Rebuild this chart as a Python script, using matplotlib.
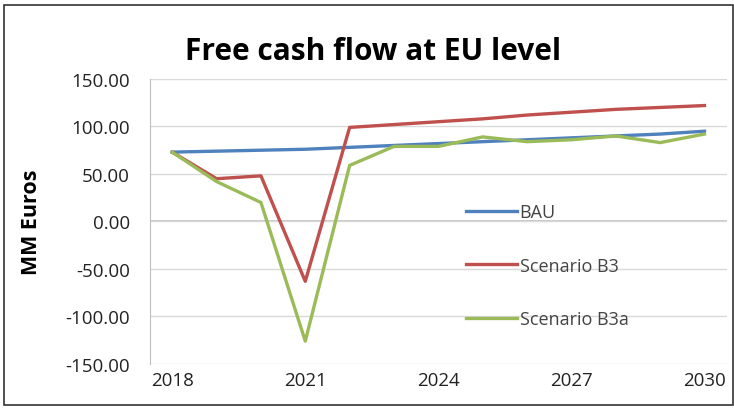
import matplotlib.pyplot as plt
import matplotlib.patches as mpatches

# Yearly free cash flow, MM Euros
years = list(range(2018, 2031))
bau = [73, 74, 75, 76, 78, 80, 82, 84, 86, 88, 90, 92, 95]
scenario_b3 = [73, 45, 48, -63, 99, 102, 105, 108, 112, 115, 118, 120, 122]
scenario_b3a = [73, 42, 20, -126, 59, 79, 79, 89, 84, 86, 90, 83, 92]
tick_years = [2018, 2021, 2024, 2027, 2030]

plt.rcParams['font.family'] = ['Open Sans', 'DejaVu Sans']

fig = plt.figure(figsize=(7.34, 4.10), dpi=100)
ax = fig.add_axes([0.2044, 0.1098, 0.7856, 0.6952])

ax.plot(years, bau, color='#4F81BD', lw=2.4, label='BAU')
ax.plot(years, scenario_b3, color='#C0504D', lw=2.4, label='Scenario B3')
ax.plot(years, scenario_b3a, color='#9BBB59', lw=2.4, label='Scenario B3a')

ax.set_xlim(2017.5, 2030.5)
ax.set_ylim(-150, 150)
ax.set_yticks(range(-150, 151, 50))
ax.set_yticklabels([f'{v:.2f}' for v in range(-150, 151, 50)])
ax.set_xticks(tick_years)
ax.tick_params(axis='both', length=0, labelsize=13.5, colors='#222222')
ax.tick_params(axis='y', pad=14.5)
ax.tick_params(axis='x', pad=5)

ax.grid(axis='y', color='#D9D9D9', lw=1)
ax.axhline(0, color='#BFBFBF', lw=1.2, zorder=1)
for side in ['top', 'right', 'bottom']:
    ax.spines[side].set_visible(False)
ax.spines['left'].set_color('#BFBFBF')

ax.set_ylabel('MM Euros', fontsize=15.5, fontweight='bold')
ax.yaxis.set_label_coords(-0.187, 0.5)
fig.text(0.508, 0.873, 'Free cash flow at EU level', ha='center', va='center',
         fontsize=21.5, fontweight='bold')

ax.legend(loc='upper left', bbox_to_anchor=(0.533, 0.595), frameon=False, borderpad=0,
          fontsize=13, labelspacing=1.95, handlelength=2.8, handletextpad=0.15,
          labelcolor='#444444')

# outer border around the chart
fig.patches.append(mpatches.Rectangle((0.006, 0.01), 0.992, 0.975, transform=fig.transFigure,
                                      fill=False, edgecolor='#333333', lw=1.2))

fig.savefig('out.png', dpi=100, facecolor='white')
